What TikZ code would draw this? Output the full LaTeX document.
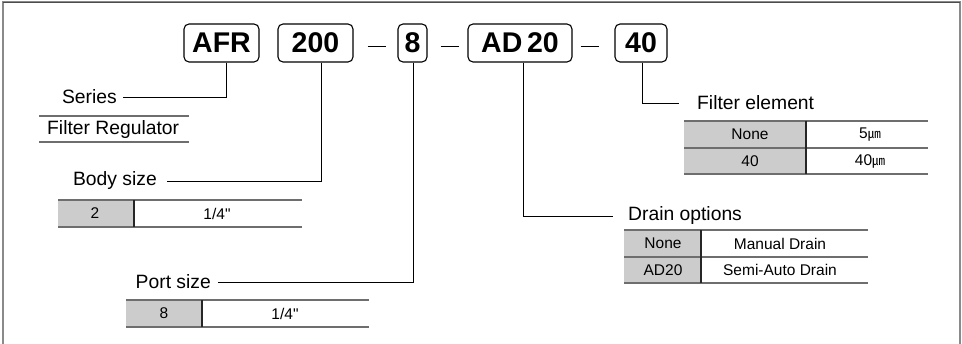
\documentclass[tikz,border=0pt]{standalone}
\usepackage{fontspec}
\setmainfont{Liberation Sans}[Ligatures=TeXOff]
\newfontfamily\cjk{Noto Sans CJK JP}
\definecolor{cellgray}{HTML}{CCCCCC}
\definecolor{rule}{HTML}{6E6E6E}
\definecolor{framec}{HTML}{8A8A8A}
\newcommand{\um}{{\cjk\fontsize{13}{14}\selectfont ㎛}}
\begin{document}
\begin{tikzpicture}[x=1pt,y=-1pt,
  code/.style={draw, rounded corners=5pt, line width=1.1pt, minimum height=38pt, inner sep=0pt,
    font=\fontsize{28.5}{30}\selectfont\bfseries},
  lab/.style={font=\fontsize{19.3}{21}\selectfont, inner sep=0pt},
  tab/.style={font=\fontsize{15.5}{17}\selectfont, inner sep=0pt},
  conn/.style={line width=1pt, black},
  dashline/.style={line width=1.2pt, black},
  tline/.style={line width=1.4pt, rule},
  divline/.style={line width=1.2pt, black!85}]
\useasboundingbox (0,0) rectangle (962,344);
% frame
\draw[line width=2pt, framec] (3,344) -- (3,2.5) -- (959.5,2.5) -- (959.5,344);
\draw[line width=1.6pt, black!70] (3,2.5) -- (959.5,2.5);

% code boxes
\node[code, minimum width=75pt] (afr) at (221.5,43) {AFR};
\node[code, minimum width=75pt] (n200) at (315.5,43) {200};
\node[code, minimum width=29pt] (n8) at (412.5,43) {8};
\node[code, minimum width=104pt] (ad) at (520,43) {AD\,20};
\node[code, minimum width=52pt] (f40) at (641,43) {40};

% dashes
\draw[dashline] ([xshift=14pt,yshift=-3.5pt]n200.east) -- ([xshift=-11pt,yshift=-3.5pt]n8.west);
\draw[dashline] ([xshift=13pt,yshift=-3.5pt]n8.east) -- ([xshift=-8pt,yshift=-3.5pt]ad.west);
\draw[dashline] ([xshift=8pt,yshift=-3.5pt]ad.east) -- ([xshift=-15pt,yshift=-3.5pt]f40.west);

% Series
\node[lab, anchor=base east] (series) at (117,104) {Series};
\draw[conn] ([xshift=4.5pt]afr.south) |- ([xshift=6pt]series.east);
\node[lab, anchor=base west] (freg) at (47,135) {Filter Regulator};
\draw[tline, line width=1.1pt] (39,116) -- (189,116);
\draw[tline, line width=1.1pt] (39,142) -- (189,142);

% Body size
\node[lab, anchor=base east] (body) at (157,186) {Body size};
\draw[conn] ([xshift=5.5pt]n200.south) |- ([xshift=10pt]body.east);
\fill[cellgray] (58,200) rectangle (134,227);
\draw[tline] (58,200) -- (302,200);
\draw[tline] (58,227) -- (302,227);
\draw[divline] (134,200) -- (134,227);
\node[tab] (b2) at (95,213.5) {2};
\node[tab] (b14) at (217,213.5) {1/4"};

% Port size
\node[lab, anchor=base east] (port) at (211,289) {Port size};
\draw[conn] ([xshift=0.5pt]n8.south) |- ([xshift=7pt]port.east);
\fill[cellgray] (126,300) rectangle (202,327);
\draw[tline] (126,300) -- (369,300);
\draw[tline] (126,327) -- (369,327);
\draw[divline] (202,300) -- (202,327);
\node[tab] (p8) at (164,313.5) {8};
\node[tab] (p14) at (285,313.5) {1/4"};

% Drain options
\node[lab, anchor=base west] (drain) at (628,221) {Drain options};
\draw[conn] ([xshift=3pt]ad.south) |- ([xshift=-15pt]drain.west);
\fill[cellgray] (624,230) rectangle (701,283);
\draw[tline] (624,230) -- (868,230);
\draw[tline] (624,257) -- (868,257);
\draw[tline] (624,283) -- (868,283);
\draw[divline] (701,230) -- (701,283);
\node[tab] (dnone) at (663,243.5) {None};
\node[tab] (dman) at (780,243.5) {Manual Drain};
\node[tab] (dad) at (663,270) {AD20};
\node[tab] (dsemi) at (780,270) {Semi-Auto Drain};

% Filter element
\node[lab, anchor=base west] (felem) at (697,110) {Filter element};
\draw[conn] ([xshift=1pt]f40.south) |- ([xshift=-18pt]felem.west);
\fill[cellgray] (684,121) rectangle (806,174);
\draw[tline] (684,121) -- (928,121);
\draw[tline] (684,148) -- (928,148);
\draw[tline] (684,174) -- (928,174);
\draw[divline] (806,121) -- (806,174);
\node[tab] (fnone) at (750,134.5) {None};
\node[tab] (f5) at (870,134.5) {5\um};
\node[tab] (f40t) at (750,161) {40};
\node[tab] (f40u) at (870,161) {40\um};
\end{tikzpicture}
\end{document}
